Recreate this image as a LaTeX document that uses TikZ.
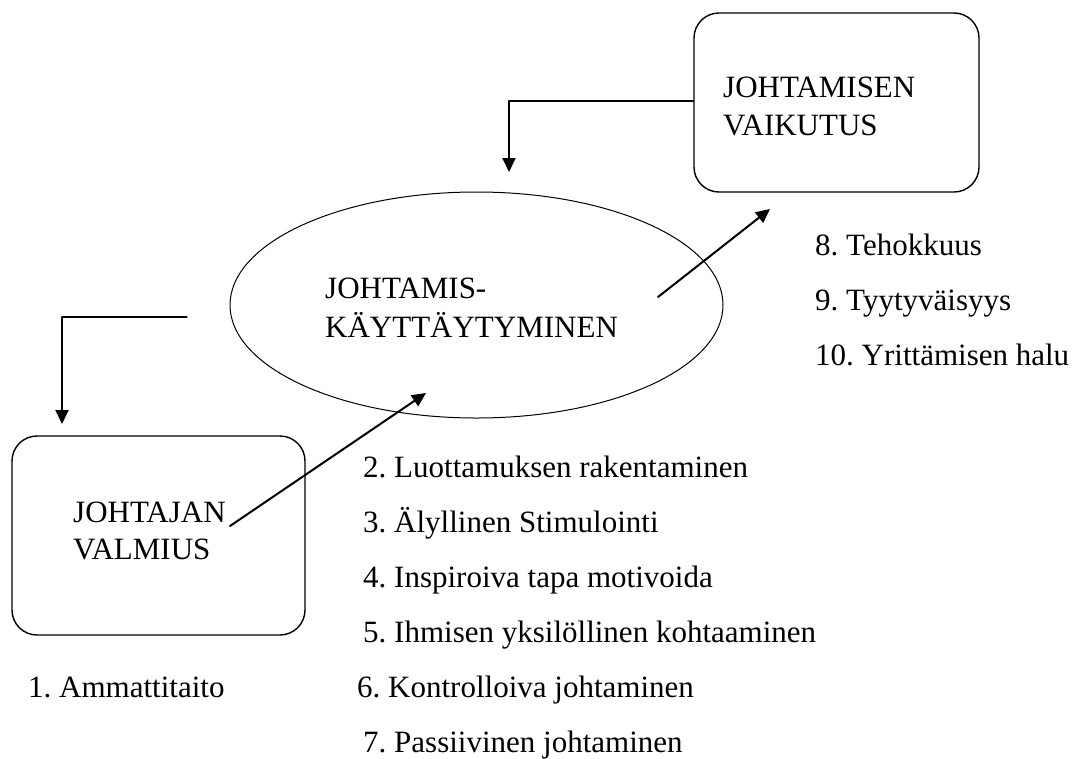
\documentclass[tikz,border=0pt]{standalone}
\usepackage{fontspec}
\setmainfont{Liberation Serif}
\usetikzlibrary{arrows.meta,shapes.geometric}
\frenchspacing

\begin{document}
\begin{tikzpicture}[line cap=round,line join=round,>={Triangle[length=14pt,width=13pt]},x=1pt,y=-1pt,
  every node/.style={font=\fontsize{31}{38}\selectfont},
  laatikko/.style={draw,rounded corners=25pt,line width=1.4pt,inner sep=0pt},
  teksti/.style={anchor=base west,inner sep=0pt},
  nuoli/.style={->,line width=2pt},
  ohut/.style={line width=1.2pt}]
\useasboundingbox (0,0) rectangle (1078,758);
% laatikot ja ellipsi
\node[laatikko,minimum width=285pt,minimum height=179pt] (vaikutus) at (836.5,102.5) {};
\node[laatikko,minimum width=293pt,minimum height=199pt] (valmius) at (158.5,535.5) {};
\node[draw,ellipse,line width=1pt,inner sep=0pt,minimum width=493pt,minimum height=226pt] (kaytos) at (476.5,305) {};
\node[teksti] (vaikutus1) at (723,97) {JOHTAMISEN};
\node[teksti] (vaikutus2) at (723,135) {VAIKUTUS};
\node[teksti] (valmius1) at (73,522) {JOHTAJAN};
\node[teksti] (valmius2) at (73,559) {VALMIUS};
\node[teksti] (kaytos1) at (325,298) {JOHTAMIS-};
\node[teksti] (kaytos2) at (325,337) {KÄYTTÄYTYMINEN};
% nuolet
\coordinate (ylakulma) at (509,101);
\coordinate (ylakarki) at (509,172);
\draw[ohut] (ylakulma -| vaikutus.west) -- (ylakulma);
\draw[nuoli] (ylakulma) -- (ylakarki);
\coordinate (vasalku) at (187,317);
\coordinate (vaskulma) at (62,317);
\coordinate (vaskarki) at (62,424);
\draw[ohut] (vasalku) -- (vaskulma);
\draw[nuoli] (vaskulma) -- (vaskarki);
\coordinate (valmiusalku) at (230,526);
\coordinate (kaytoskarki) at (426,393);
\draw[nuoli] (valmiusalku) -- (kaytoskarki);
\coordinate (kaytosalku) at (658,297);
\coordinate (vaikutuskarki) at (770,209);
\draw[nuoli] (kaytosalku) -- (vaikutuskarki);
% luettelot
\node[teksti] (k1) at (28,697) {1. Ammattitaito};
\node[teksti] (k2) at (363,477) {2. Luottamuksen rakentaminen};
\node[teksti] (k3) at (363,532) {3. Älyllinen Stimulointi};
\node[teksti] (k4) at (363,587) {4. Inspiroiva tapa motivoida};
\node[teksti] (k5) at (363,642) {5. Ihmisen yksilöllinen kohtaaminen};
\node[teksti] (k6) at (357,697) {6. Kontrolloiva johtaminen};
\node[teksti] (k7) at (363,752) {7. Passiivinen johtaminen};
\node[teksti] (k8) at (815,255) {8. Tehokkuus};
\node[teksti] (k9) at (815,310) {9. Tyytyväisyys};
\node[teksti] (k10) at (815,365) {10. Yrittämisen halu};
\end{tikzpicture}
\end{document}
